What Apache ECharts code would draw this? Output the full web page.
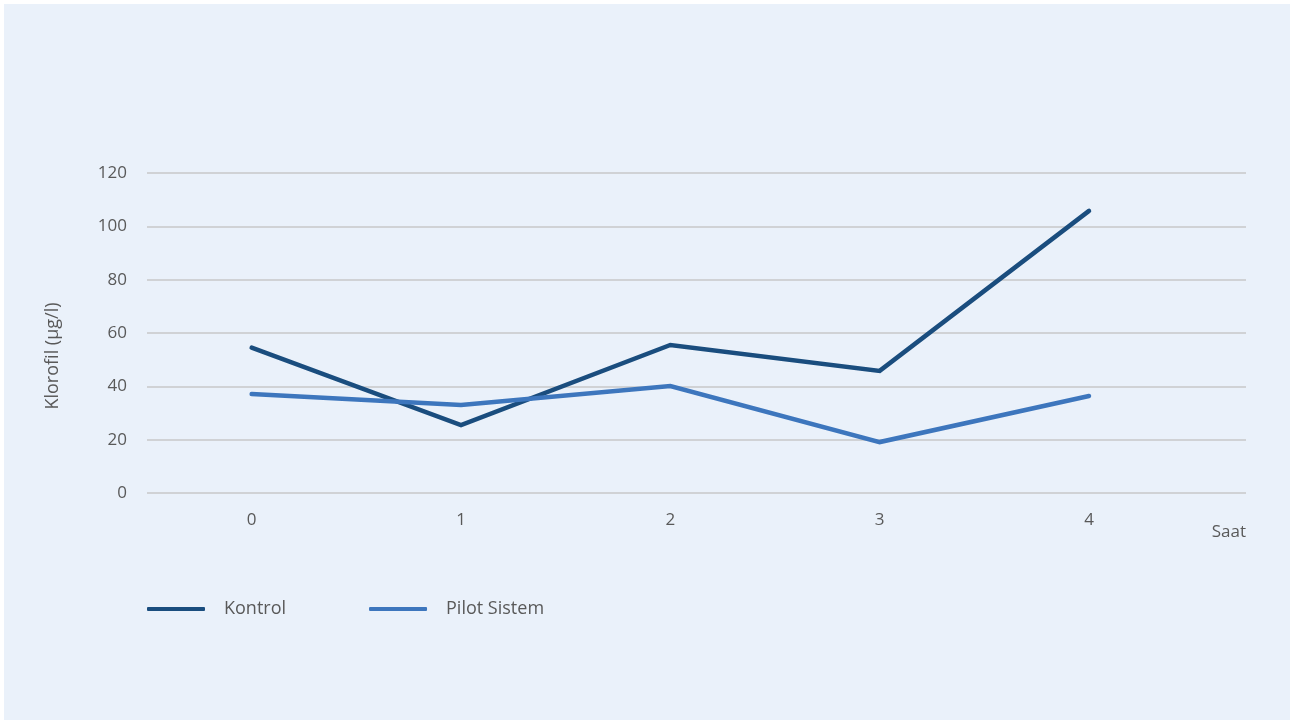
<!DOCTYPE html>
<html><head><meta charset="utf-8">
<script src="https://cdn.jsdelivr.net/npm/echarts@6/dist/echarts.min.js"></script>
<style>
html,body{margin:0;padding:0;background:#fff;width:1301px;height:722px;overflow:hidden;}
#c{position:absolute;left:4px;top:4px;width:1286px;height:716px;background:#EAF1FA;}
</style></head><body>
<div id="c"></div>
<script>
const hours = [0, 1, 2, 3, 4];
const kontrol = [54.5, 25.5, 55.5, 45.8, 105.8];
const pilot = [37.1, 33.0, 40.1, 19.1, 36.4];
const seriesNames = ['Kontrol', 'Pilot Sistem'];
const yTicks = [0, 20, 40, 60, 80, 100, 120];
const xName = 'Saat';
const yName = 'Klorofil (µg/l)';

const font = '"Open Sans", sans-serif';
const txt = '#595959';
const chart = echarts.init(document.getElementById('c'));
chart.setOption({
  animation: false,
  backgroundColor: '#EAF1FA',
  grid: {left: 143, right: 44, top: 169, bottom: 227, containLabel: false},
  legend: {
    left: 143, top: 596, padding: 0, itemWidth: 58, itemHeight: 4, itemGap: 83,
    icon: 'roundRect',
    textStyle: {fontFamily: font, fontSize: 18, color: txt, padding: [0, 0, 0, 14]},
    data: seriesNames
  },
  xAxis: {
    type: 'value', min: -0.5, max: 4.75, interval: 0.25,
    name: xName, nameLocation: 'end', nameGap: 0,
    nameTextStyle: {fontFamily: font, fontSize: 17, color: txt, align: 'right', verticalAlign: 'top', padding: [31, 0, 0, 0]},
    axisLine: {show: false}, axisTick: {show: false}, splitLine: {show: false},
    axisLabel: {
      margin: 19, fontFamily: font, fontSize: 17, color: txt,
      formatter: v => (hours.indexOf(v) >= 0 ? String(v) : '')
    }
  },
  yAxis: {
    type: 'value', min: yTicks[0], max: yTicks[yTicks.length - 1], interval: 20,
    axisLine: {show: false}, axisTick: {show: false},
    splitLine: {lineStyle: {color: '#D0D2D5', width: 2}},
    axisLabel: {margin: 20, fontFamily: font, fontSize: 17, color: txt}
  },
  graphic: [{
    type: 'text', x: 49, y: 352, rotation: Math.PI / 2,
    style: {text: yName, fontFamily: font, fontSize: 18, fill: txt, textAlign: 'center', textVerticalAlign: 'middle'}
  }],
  series: [
    {name: seriesNames[0], type: 'line', showSymbol: false, symbol: 'none',
     data: hours.map((h, i) => [h, kontrol[i]]),
     lineStyle: {width: 4.5, color: '#1A4D7E', cap: 'round', join: 'miter'}, itemStyle: {color: '#1A4D7E'}},
    {name: seriesNames[1], type: 'line', showSymbol: false, symbol: 'none',
     data: hours.map((h, i) => [h, pilot[i]]),
     lineStyle: {width: 4.5, color: '#3D76BD', cap: 'round', join: 'miter'}, itemStyle: {color: '#3D76BD'}}
  ]
});
</script></body></html>
